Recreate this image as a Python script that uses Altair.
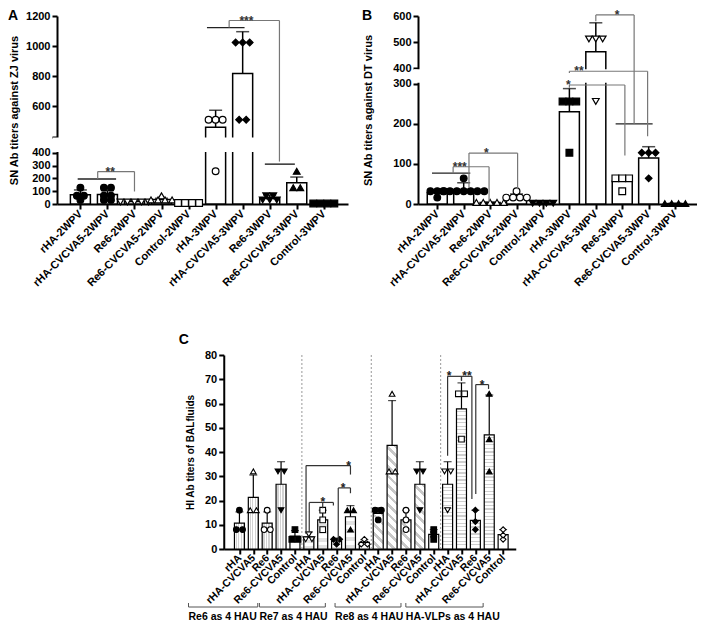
import json
import altair as alt
import pandas as pd

FONT = "Liberation Sans"

# ---------------- Panel A : SN Ab titers against ZJ virus ----------------
A_names = ["rHA-2WPV", "rHA-CVCVA5-2WPV", "Re6-2WPV", "Re6-CVCVA5-2WPV", "Control-2WPV",
           "rHA-3WPV", "rHA-CVCVA5-3WPV", "Re6-3WPV", "Re6-CVCVA5-3WPV", "Control-3WPV"]
A_means = [73, 75, 19, 35, 8, 462, 818, 46, 166, 4]
A_err_top = [110, 105, 24, 45, 10, 575, 1096, 70, 211, 5]
A_points = [[128, 64, 64, 32], [128, 128, 64, 64, 32, 32], [16, 16, 16, 16, 16],
            [64, 32, 32, 32, 32], [8, 8, 8, 8], [512, 512, 512, 256],
            [1024, 1024, 1024, 512, 512], [64, 64, 32, 32, 32], [256, 128, 128], [4, 4, 4, 4]]
A_shapes = ["circle", "circle", "triangle-down", "triangle-up", "square",
            "circle", "diamond", "triangle-down", "triangle-up", "square"]
A_filled = [True, True, False, False, False, False, True, True, True, True]
A_yticks = [0, 100, 200, 300, 400, 401, 600, 800, 1000, 1200]
A_break = [400, 401]
A_group_lines = [(-0.1, 1.32, 196), (4.68, 6.07, 1123), (6.82, 7.93, 312)]
A_brackets = [(0.64, 196, 2.0, 98, 254), (5.5, 1123, 7.36, 332, 1170)]
A_star_text = ["**", "***"]
A_star_x = [1.1, 6.14]

# ---------------- Panel B : SN Ab titers against DT virus ----------------
B_names = A_names
B_means = [28, 36, 4, 19, 2, 230, 463, 57, 115, 1]
B_err_top = [33, 53, 5, 25, 3, 288, 574, 69, 143, 2]
B_points = [[32, 32, 32, 16], [64, 32, 32, 32, 32, 32, 32, 32], [4, 4, 4, 4, 4],
            [32, 16, 16, 16, 16], [2, 2, 2, 2], [256, 256, 256, 128],
            [512, 512, 512, 256], [64, 64, 64, 32], [128, 128, 128, 64], [1, 1, 1, 1]]
B_shapes = ["circle", "circle", "triangle-up", "circle", "triangle-down",
            "square", "triangle-down", "square", "diamond", "triangle-up"]
B_filled = [True, True, False, False, True, True, False, False, True, True]
B_yticks = [0, 100, 200, 300, 400, 500, 600]
B_break = [300, 400]
B_group_lines = [(-0.2, 1.25, 77), (6.75, 8.15, 200)]
B_brackets = [(0.6, 77, 1.96, 5, 93), (1.2, 41, 3.04, 37, 127), (6.0, 580, 7.45, 200, 604),
              (5.0, 370, 7.96, 169, 381), (5.0, 290, 7.1, 121, 297)]
B_star_text = ["***", "*", "*", "**", "*"]
B_star_x = [0.85, 1.86, 6.8, 5.36, 4.96]

# ---------------- Panel C : HI Ab titers of BALfluids ----------------
C_vaccines = ["rHA", "rHA-CVCVA5", "Re6", "Re6-CVCVA5", "Control"]
C_groups = ["Re6 as 4 HAU", "Re7 as 4 HAU", "Re8 as 4 HAU", "HA-VLPs as 4 HAU"]
C_means = [10.7, 21.3, 10.7, 26.7, 5.3, 5.0, 12, 3.3, 13.3, 2.7,
           14.7, 42.7, 12, 26.7, 6, 26.7, 57.8, 11.8, 47.1, 5.9]
C_err_top = [15.3, 30.5, 15.3, 36, 7.6, 7.0, 16, 4.5, 17.9, 3.9,
             17, 61.2, 16, 36, 8, 36, 68.5, 16, 63.5, 8]
C_points = [[16, 8, 8], [32, 16, 16], [16, 8, 8], [32, 32, 16], [8, 4, 4],
            [6, 4, 4], [16, 8, 12], [4, 4, 2], [16, 16, 8], [4, 2, 2],
            [16, 16, 12], [64, 32, 32], [16, 8, 12], [32, 32, 16], [8, 4, 6],
            [32, 32, 16], [64, 64, 45.3], [16, 8, 11.3], [64, 45.3, 32], [8, 4, 5.7]]
C_shapes = ["circle", "triangle-up", "circle", "triangle-down", "square",
            "triangle-down", "square", "diamond", "triangle-up", "diamond",
            "circle", "triangle-up", "circle", "triangle-down", "square",
            "triangle-down", "square", "diamond", "triangle-up", "diamond"]
C_filled = [True, False, False, True, True, False, False, True, True, False,
            True, False, False, True, True, False, False, True, True, False]
C_yticks = [0, 10, 20, 30, 40, 50, 60, 70, 80]
C_dividers = [4.5, 9.5, 14.5]
C_brackets = [(4.8, 6.2, 8.0, 30.7, 34.4), (7.12, 3.4, 8.0, 23, 25.2), (5.03, 7, 6.77, 17.9, 19.2),
              (15.0, 38.5, 16.0, 69.4, 71.2), (16.0, 69.4, 16.75, 20.6, 71.2),
              (17.03, 22.7, 17.95, 66, 67.8)]
C_extra_ticks = [(6.0, 19.2, 6.0, 16.8)]
C_star_text = ["*", "*", "*", "*", "**", "*"]
C_star_x = [7.87, 7.47, 6.0, 15.1, 16.4, 17.49]
C_group_start = [-3.67, 1.44, 6.89, 11.99]
C_group_end = [1.32, 6.19, 11.64, 17.56]


def spread_points(points, shapes, filled, step):
    rows = []
    for i, vals in enumerate(points):
        counts = {}
        for v in vals:
            counts[v] = counts.get(v, 0) + 1
        for v, n in counts.items():
            for j in range(n):
                rows.append({"x": i + (j - (n - 1) / 2) * step, "y": v,
                             "shape": shapes[i], "fillc": "black" if filled[i] else "white"})
    return pd.DataFrame(rows)


def bracket_segments(brackets, extra=()):
    rows = []
    for xl, yl, xr, yr, yt in brackets:
        rows += [{"x": xl, "y": yl, "x2": xl, "y2": yt},
                 {"x": xl, "y": yt, "x2": xr, "y2": yt},
                 {"x": xr, "y": yt, "x2": xr, "y2": yr}]
    for x1, y1, x2, y2 in extra:
        rows.append({"x": x1, "y": y1, "x2": x2, "y2": y2})
    return pd.DataFrame(rows)


def stripe_gradient(n, duty, gray, x1, y1, x2, y2):
    stops = []
    n = max(1, int(round(n)))
    for k in range(n):
        a, b, c = k / n, (k + 1 - duty) / n, (k + 1) / n
        stops += [alt.GradientStop(color="white", offset=a), alt.GradientStop(color="white", offset=b),
                  alt.GradientStop(color=gray, offset=b), alt.GradientStop(color=gray, offset=c)]
    return alt.LinearGradient(gradient="linear", stops=stops, x1=x1, y1=y1, x2=x2, y2=y2)


def broken_panel(letter, names, means, err_top, points, shapes, filled, yticks, brk,
                 group_lines, brackets, star_text, star_x, width, height, xdom, ydom, yrange,
                 ytitle, title_pad, letter_x, pt_size, bar_w):
    xs = alt.X("x:Q", scale=alt.Scale(domain=xdom, nice=False, zero=False),
               axis=alt.Axis(values=list(range(len(names))),
                             labelExpr=json.dumps(names) + "[datum.value]",
                             labelAngle=-45, labelAlign="right", labelBaseline="middle",
                             title=None, grid=False, labelPadding=3))
    ys = alt.Y("y:Q", scale=alt.Scale(domain=ydom, range=yrange, nice=False, zero=False),
               axis=alt.Axis(values=yticks, format="d",
                             labelExpr="datum.value == 401 ? '' : datum.label",
                             title=ytitle, titlePadding=title_pad, grid=False, zindex=0))
    n = len(names)
    bars_df = pd.DataFrame({"x": list(range(n)), "y": means, "zero": [0] * n, "e": err_top})
    caps_df = pd.DataFrame({"x": list(range(n)), "y": err_top})
    bars = alt.Chart(bars_df).mark_bar(size=bar_w, fill="white", stroke="black", strokeWidth=1.5).encode(
        x=xs, y=ys, y2="zero:Q")
    err = alt.Chart(bars_df).mark_rule(color="black", strokeWidth=1.5).encode(x=xs, y=ys, y2="e:Q")
    caps = alt.Chart(caps_df).mark_tick(orient="horizontal", size=13, thickness=1.5,
                                        color="black").encode(x=xs, y=ys)
    pts = alt.Chart(spread_points(points, shapes, filled, 0.26)).mark_point(
        filled=True, stroke="black", strokeWidth=1.2, size=pt_size, opacity=1).encode(
        x=xs, y=ys, shape=alt.Shape("shape:N", scale=None), fill=alt.Fill("fillc:N", scale=None))
    pad = (brk[1] - brk[0]) * 0.06
    mask = alt.Chart(pd.DataFrame({"y": [brk[0] + pad], "y2": [brk[1] - pad]})).mark_rect(
        color="white").encode(x=alt.value(-4), x2=alt.value(width), y=ys, y2="y2:Q")
    gl_df = pd.DataFrame([{"x": a, "x2": b, "y": c} for a, b, c in group_lines])
    glines = alt.Chart(gl_df).mark_rule(color="#222", strokeWidth=1.4).encode(x=xs, x2="x2:Q", y=ys)
    brl = alt.Chart(bracket_segments(brackets)).mark_rule(color="#777", strokeWidth=1.2).encode(
        x=xs, y=ys, x2="x2:Q", y2="y2:Q")
    st_df = pd.DataFrame({"x": star_x, "y": [b[4] for b in brackets], "t": star_text})
    stars = alt.Chart(st_df).mark_text(font=FONT, fontSize=12, fontWeight="bold", dy=4,
                                       baseline="alphabetic", color="#333").encode(
        x=xs, y=ys, text="t:N")
    let = alt.Chart(pd.DataFrame({"t": [letter]})).mark_text(
        font=FONT, fontSize=14, fontWeight="bold", align="left", baseline="middle").encode(
        x=alt.value(letter_x), y=alt.value(0), text="t:N")
    return alt.layer(bars, err, caps, pts, mask, glines, brl, stars, let).properties(
        width=width, height=height)


A = broken_panel("A", A_names, A_means, A_err_top, A_points, A_shapes, A_filled, A_yticks,
                 A_break, A_group_lines, A_brackets, A_star_text, A_star_x,
                 291, 188, [-0.68, 9.71], [0, 400, 401, 1200], [188, 136.9, 120.5, 0],
                 "SN Ab titers against ZJ virus", 6, -49, 45, 20)
B = broken_panel("B", B_names, B_means, B_err_top, B_points, B_shapes, B_filled, B_yticks,
                 B_break, B_group_lines, B_brackets, B_star_text, B_star_x,
                 279, 188, [-0.54, 9.64], [0, 300, 400, 600], [188, 67.8, 52.3, 0],
                 "SN Ab titers against DT virus", 19, -56, 45, 20)

# ---------------- Panel C ----------------
CW, CH = 292, 194
CBAR = 10
C_labels = [v for _ in C_groups for v in C_vaccines]
nC = len(C_labels)
nV = len(C_vaccines)
cdom = [-0.77, 19.55]
cx = alt.X("x:Q", scale=alt.Scale(domain=cdom, nice=False, zero=False),
           axis=alt.Axis(values=list(range(nC)), labelExpr=json.dumps(C_labels) + "[datum.value]",
                         labelAngle=-45, labelAlign="right", labelBaseline="middle",
                         labelFontSize=10.5, title=None, grid=False, labelPadding=2))
cy = alt.Y("y:Q", scale=alt.Scale(domain=[0, 80], nice=False, zero=False),
           axis=alt.Axis(values=C_yticks, title="HI Ab titers of BALfluids", titleFontSize=10,
                         titlePadding=9, grid=False, zindex=0))

cbars_df = pd.DataFrame({"x": list(range(nC)), "y": C_means, "zero": [0] * nC, "e": C_err_top})
ccaps_df = pd.DataFrame({"x": list(range(nC)), "y": C_err_top})


def c_bar_fill(i):
    g, v = divmod(i, nV)
    if C_vaccines[v] == "Control":
        return "white"
    h_px = C_means[i] / 80 * CH
    if g == 0:      # vertical stripes
        return stripe_gradient(4, 0.5, "#d2d2d2", 0, 0, 1, 0)
    if g == 1:      # light checker -> light tone
        return stripe_gradient(max(2, h_px / 8), 0.5, "#e2e2e2", 0, 0, 0, 1)
    if g == 2:      # diagonal stripes
        r = h_px / CBAR
        a = (1 + r) / (1 + r * r)
        return stripe_gradient((CBAR + h_px) / 1.414 / 6.5, 0.4, "#c8c8c8", 0, 1, a, 1 - a * r)
    # horizontal grid lines
    return stripe_gradient(h_px / 3.6, 0.35, "#cfcfcf", 0, 0, 0, 1)


bar_layers = []
for i in range(nC):
    bar_layers.append(
        alt.Chart(cbars_df.iloc[[i]]).mark_bar(size=CBAR, stroke="black", strokeWidth=1.2,
                                               fill=c_bar_fill(i)).encode(x=cx, y=cy, y2="zero:Q"))
cerr = alt.Chart(cbars_df).mark_rule(color="black", strokeWidth=1.2).encode(x=cx, y=cy, y2="e:Q")
ccap = alt.Chart(ccaps_df).mark_tick(orient="horizontal", size=8, thickness=1.2,
                                     color="black").encode(x=cx, y=cy)
cpts = alt.Chart(spread_points(C_points, C_shapes, C_filled, 0.45)).mark_point(
    filled=True, stroke="black", strokeWidth=1.1, size=32, opacity=1).encode(
    x=cx, y=cy, shape=alt.Shape("shape:N", scale=None), fill=alt.Fill("fillc:N", scale=None))
cdiv = alt.Chart(pd.DataFrame({"x": C_dividers, "y": [0] * 3, "y2": [80] * 3})).mark_rule(
    color="#999", strokeWidth=1, strokeDash=[2, 2]).encode(x=cx, y=cy, y2="y2:Q")
cbr = alt.Chart(bracket_segments(C_brackets, C_extra_ticks)).mark_rule(
    color="#333", strokeWidth=1.2).encode(x=cx, y=cy, x2="x2:Q", y2="y2:Q")
cst = alt.Chart(pd.DataFrame({"x": C_star_x, "y": [b[4] for b in C_brackets], "t": C_star_text})).mark_text(
    font=FONT, fontSize=12, fontWeight="bold", dy=4, baseline="alphabetic", color="#222").encode(
    x=cx, y=cy, text="t:N")
grp_df = pd.DataFrame({"x": C_group_start, "x2": C_group_end, "t": C_groups})
grp_end_df = pd.DataFrame({"x": C_group_end})
GY = CH + 58
gh = alt.Chart(grp_df).mark_rule(color="#555", strokeWidth=1).encode(
    x=cx, x2="x2:Q", y=alt.value(GY))
gl = alt.Chart(grp_df).mark_rule(color="#555", strokeWidth=1).encode(
    x=cx, y=alt.value(GY - 4), y2=alt.value(GY))
gr = alt.Chart(grp_end_df).mark_rule(color="#555", strokeWidth=1).encode(
    x=cx, y=alt.value(GY - 4), y2=alt.value(GY))
gt = alt.Chart(grp_df).mark_text(font=FONT, fontSize=10.5, fontWeight="bold", align="left",
                                 baseline="middle", color="black").encode(
    x=cx, y=alt.value(GY + 10), text="t:N")
clet = alt.Chart(pd.DataFrame({"t": ["C"]})).mark_text(
    font=FONT, fontSize=14, fontWeight="bold", align="left", baseline="middle").encode(
    x=alt.value(-45), y=alt.value(-15), text="t:N")
cbound = alt.Chart(pd.DataFrame({"t": ["C"]})).mark_rule(color="white", strokeWidth=1).encode(
    x=alt.value(CW + 13), x2=alt.value(CW + 14), y=alt.value(CH))
C = alt.layer(*bar_layers, cerr, ccap, cpts, cdiv, cbr, cst, gh, gl, gr, gt, clet, cbound).properties(
    width=CW, height=CH)

chart = alt.vconcat(alt.hconcat(A, B, spacing=14), C, spacing=44, center=True).properties(padding=0)
chart = chart.configure_axis(
    labelFont=FONT, labelFontSize=11, labelFontWeight="bold", labelColor="black",
    titleFont=FONT, titleFontSize=11, titleFontWeight="bold", titleColor="black",
    domainColor="black", domainWidth=2, tickColor="black", tickWidth=2, tickSize=5, grid=False,
    labelOverlap=False, labelBound=False, labelFlush=False
).configure_view(stroke=None)

chart.save("out.html", embed_options={"renderer": "svg", "actions": False})
